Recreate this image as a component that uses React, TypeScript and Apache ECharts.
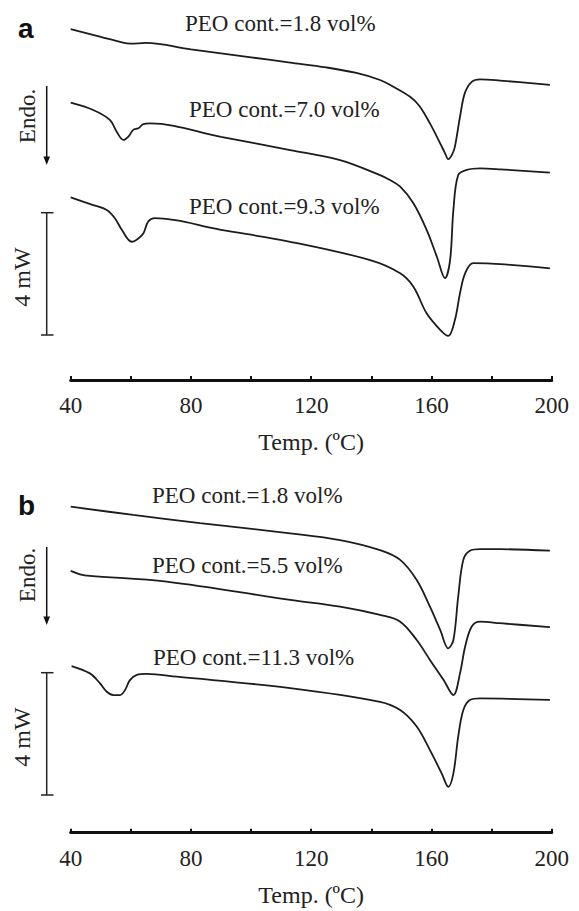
import React, { useEffect, useRef } from "react";
import * as echarts from "echarts";

// ---- Panel a (heat flow, mW, arbitrary offsets) ----
const tempA1 = [40, 50, 57, 60, 65, 80, 100, 113, 125, 135, 142.9, 147.5, 152.9, 156, 159.5, 162.9, 164.5, 165.6, 166.8, 167.8, 169.5, 171.1, 173.4, 176.2, 182.8, 199.4];
const heatA1 = [11.47, 11.22, 11.04, 11.0, 11.02, 10.81, 10.55, 10.38, 10.22, 10.04, 9.81, 9.58, 9.26, 8.96, 8.39, 7.74, 7.42, 7.22, 7.36, 7.63, 8.61, 9.38, 9.75, 9.83, 9.79, 9.65];

const tempA2 = [40, 47.5, 53.1, 55.3, 57.5, 59.2, 60.8, 62.5, 64.2, 66.4, 90, 113, 129.6, 142.9, 146.2, 149.6, 154.0, 158.4, 161.8, 164.5, 166.2, 167.3, 168.9, 171.7, 176.2, 182.8, 199.4];
const heatA2 = [9.07, 8.83, 8.5, 8.12, 7.85, 7.96, 8.18, 8.23, 8.37, 8.39, 7.95, 7.52, 7.19, 6.7, 6.54, 6.32, 5.78, 4.91, 4.03, 3.33, 3.92, 5.56, 6.7, 6.87, 6.92, 6.89, 6.78];

const tempA3 = [40, 47.5, 52, 54.7, 57, 60.3, 62.5, 64.2, 65.8, 68, 90, 113, 139.6, 149.6, 154.0, 158.4, 162.9, 165.6, 167.8, 169.5, 171.2, 173.9, 182.8, 199.4];
const heatA3 = [5.97, 5.72, 5.56, 5.29, 4.91, 4.52, 4.63, 4.8, 5.18, 5.29, 4.91, 4.52, 3.92, 3.49, 3.05, 2.18, 1.64, 1.44, 1.96, 2.84, 3.49, 3.82, 3.79, 3.65];

// ---- Panel b ----
const tempB1 = [40, 60.8, 83, 113, 129.6, 142.9, 149.6, 155.1, 159.5, 162.9, 165.6, 167.3, 168.9, 170.6, 172.8, 176.2, 182.8, 199.4];
const heatB1 = [10.66, 10.39, 10.12, 9.79, 9.57, 9.24, 8.92, 8.26, 7.39, 6.63, 6.03, 6.3, 7.72, 8.92, 9.22, 9.27, 9.27, 9.22];

const tempB2 = [40, 43.1, 46.4, 71.9, 113, 129.6, 142.9, 149.6, 155.1, 159.5, 164.0, 167.3, 169.5, 171.2, 173.4, 176.2, 182.8, 199.4];
const heatB2 = [8.56, 8.45, 8.4, 8.21, 7.61, 7.39, 7.12, 6.9, 6.3, 5.65, 5.0, 4.5, 5.21, 6.08, 6.74, 6.9, 6.85, 6.72];

const tempB3 = [40.3, 46.4, 49.7, 52.0, 54.2, 56.4, 58.1, 59.7, 62.0, 65.3, 75.3, 113, 142.9, 149.6, 155.1, 159.5, 163.4, 165.6, 167.3, 168.9, 170.6, 172.8, 176.2, 199.4];
const heatB3 = [5.45, 5.21, 4.89, 4.61, 4.5, 4.5, 4.67, 4.99, 5.16, 5.19, 5.1, 4.73, 4.28, 4.01, 3.47, 2.7, 1.94, 1.5, 1.94, 3.14, 4.01, 4.34, 4.39, 4.34];

const xTickLabels = [40, 80, 120, 160, 200];
const labelsA = ["PEO cont.=1.8 vol%", "PEO cont.=7.0 vol%", "PEO cont.=9.3 vol%"];
const labelsB = ["PEO cont.=1.8 vol%", "PEO cont.=5.5 vol%", "PEO cont.=11.3 vol%"];
const panelLetters = ["a", "b"];
const xAxisTitle = "Temp. (ºC)";
const scaleLabel = "4 mW";
const endoLabel = "Endo.";

const SERIF = "Liberation Serif";
const INK = "#1c1c1c";

function pairs(t: number[], h: number[]) {
  return t.map((x, i) => [x, h[i]]);
}

export default function App() {
  const ref = useRef<HTMLDivElement>(null);
  useEffect(() => {
    if (!ref.current) return;
    const chart = echarts.init(ref.current, undefined, { renderer: "svg" });

    const gridLeft = 70.7;
    const gridWidth = 481;
    const gridH = 367;
    const axisYs = [380, 832.7];

    const xAxisCommon = (gi: number) => ({
      type: "value" as const,
      gridIndex: gi,
      min: 40,
      max: 200,
      interval: 20,
      axisLine: { onZero: false, lineStyle: { color: "#111", width: 3 } },
      axisTick: { inside: true, length: 4, lineStyle: { color: "#111", width: 2 } },
      axisLabel: {
        formatter: (v: number) => (xTickLabels.includes(v) ? String(v) : ""),
        fontFamily: SERIF,
        fontSize: 23,
        color: "#222",
        margin: 14,
      },
      splitLine: { show: false },
      name: xAxisTitle,
      nameLocation: "middle" as const,
      nameGap: 50,
      nameTextStyle: { fontFamily: SERIF, fontSize: 24, color: "#222" },
    });

    const yAxisCommon = (gi: number) => ({
      type: "value" as const,
      gridIndex: gi,
      min: 0,
      max: 12,
      show: false,
    });

    const lineSeries = (gi: number, data: number[][]) => ({
      type: "line" as const,
      xAxisIndex: gi,
      yAxisIndex: gi,
      data,
      showSymbol: false,
      smooth: 0.35,
      lineStyle: { color: INK, width: 1.8 },
      silent: true,
    });

    const textStyle = (text: string, size = 23) => ({
      text,
      fontFamily: SERIF,
      fontSize: size,
      fill: "#222",
    });

    const graphics: any[] = [];
    // panel letters
    const letterY = [28, 505];
    panelLetters.forEach((l, i) => {
      graphics.push({
        type: "text",
        x: 18,
        y: letterY[i],
        style: {
          text: l,
          fontFamily: "Liberation Sans",
          fontWeight: "bold",
          fontSize: 28,
          fill: "#111",
          align: "left",
          verticalAlign: "middle",
        },
      });
    });
    // curve labels
    const labA_x = [185, 189, 189];
    const labA_y = [23, 109, 206];
    labelsA.forEach((t, i) => {
      graphics.push({
        type: "text",
        x: labA_x[i],
        y: labA_y[i],
        style: { ...textStyle(t), align: "left", verticalAlign: "middle" },
      });
    });
    const labB_x = [152, 152, 153];
    const labB_y = [495, 565, 657];
    labelsB.forEach((t, i) => {
      graphics.push({
        type: "text",
        x: labB_x[i],
        y: labB_y[i],
        style: { ...textStyle(t), align: "left", verticalAlign: "middle" },
      });
    });
    // Endo arrows + scale bars for each panel
    const endoY = [116, 575];
    const arrowTop = [86, 547];
    const arrowBot = [165, 625];
    const barTop = [212.7, 672.7];
    const barBot = [335, 795];
    const barLabY = [277, 737];
    for (let i = 0; i < 2; i++) {
      graphics.push({
        type: "text",
        x: 27,
        y: endoY[i],
        rotation: Math.PI / 2,
        style: { ...textStyle(endoLabel), align: "center", verticalAlign: "middle" },
      });
      graphics.push({
        type: "line",
        shape: { x1: 46.7, y1: arrowTop[i], x2: 46.7, y2: arrowBot[i] - 6 },
        style: { stroke: "#111", lineWidth: 1.5 },
      });
      graphics.push({
        type: "polygon",
        shape: {
          points: [
            [43.4, arrowBot[i] - 8.5],
            [50, arrowBot[i] - 8.5],
            [46.7, arrowBot[i]],
          ],
        },
        style: { fill: "#111" },
      });
      graphics.push({
        type: "line",
        shape: { x1: 46.7, y1: barTop[i], x2: 46.7, y2: barBot[i] },
        style: { stroke: "#222", lineWidth: 1.5 },
      });
      graphics.push({
        type: "line",
        shape: { x1: 41, y1: barTop[i], x2: 53.5, y2: barTop[i] },
        style: { stroke: "#222", lineWidth: 1.5 },
      });
      graphics.push({
        type: "line",
        shape: { x1: 41, y1: barBot[i], x2: 53.5, y2: barBot[i] },
        style: { stroke: "#222", lineWidth: 1.5 },
      });
      graphics.push({
        type: "text",
        x: 22,
        y: barLabY[i],
        rotation: Math.PI / 2,
        style: { ...textStyle(scaleLabel, 24), align: "center", verticalAlign: "middle" },
      });
    }

    chart.setOption({
      animation: false,
      backgroundColor: "#fff",
      grid: [
        { left: gridLeft, width: gridWidth, top: axisYs[0] - gridH, height: gridH },
        { left: gridLeft, width: gridWidth, top: axisYs[1] - gridH, height: gridH },
      ],
      xAxis: [xAxisCommon(0), xAxisCommon(1)],
      yAxis: [yAxisCommon(0), yAxisCommon(1)],
      series: [
        lineSeries(0, pairs(tempA1, heatA1)),
        lineSeries(0, pairs(tempA2, heatA2)),
        lineSeries(0, pairs(tempA3, heatA3)),
        lineSeries(1, pairs(tempB1, heatB1)),
        lineSeries(1, pairs(tempB2, heatB2)),
        lineSeries(1, pairs(tempB3, heatB3)),
      ],
      graphic: graphics,
    });

    return () => chart.dispose();
  }, []);

  return (
    <div
      ref={ref}
      style={{ position: "absolute", left: 0, top: 0, width: 579, height: 911 }}
    />
  );
}
